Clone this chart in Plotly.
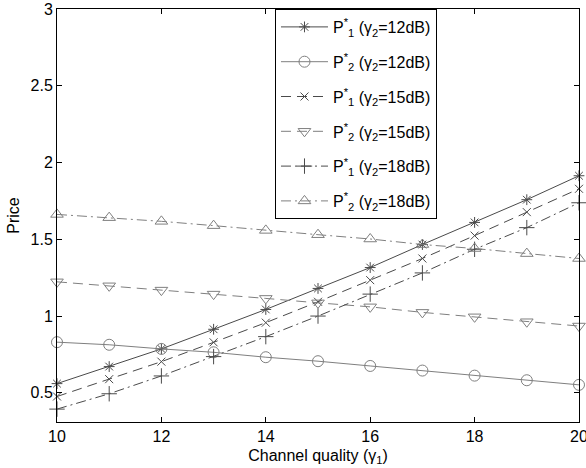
import plotly.graph_objects as go

x = [10, 11, 12, 13, 14, 15, 16, 17, 18, 19, 20]
p1_12 = [0.56, 0.671, 0.786, 0.914, 1.043, 1.18, 1.316, 1.466, 1.61, 1.758, 1.914]
p2_12 = [0.83, 0.813, 0.786, 0.764, 0.732, 0.706, 0.675, 0.645, 0.612, 0.582, 0.552]
p1_15 = [0.476, 0.589, 0.703, 0.829, 0.957, 1.093, 1.234, 1.375, 1.524, 1.677, 1.829]
p2_15 = [1.223, 1.197, 1.169, 1.143, 1.115, 1.086, 1.06, 1.024, 0.995, 0.963, 0.935]
p1_18 = [0.394, 0.494, 0.61, 0.736, 0.866, 1.0, 1.143, 1.281, 1.435, 1.576, 1.738]
p2_18 = [1.662, 1.641, 1.617, 1.589, 1.558, 1.53, 1.502, 1.466, 1.44, 1.407, 1.375]

names = [
    "P<sup>*</sup><sub>1</sub> (γ<sub>2</sub>=12dB)",
    "P<sup>*</sup><sub>2</sub> (γ<sub>2</sub>=12dB)",
    "P<sup>*</sup><sub>1</sub> (γ<sub>2</sub>=15dB)",
    "P<sup>*</sup><sub>2</sub> (γ<sub>2</sub>=15dB)",
    "P<sup>*</sup><sub>1</sub> (γ<sub>2</sub>=18dB)",
    "P<sup>*</sup><sub>2</sub> (γ<sub>2</sub>=18dB)",
]
series = [p1_12, p2_12, p1_15, p2_15, p1_18, p2_18]
dashes = ["solid", "solid", "10px,6px", "10px,6px", "10px,4px,2px,4px", "10px,4px,2px,4px"]
symbols = ["asterisk-open", "circle-open", "x-thin-open", "triangle-down-open",
           "cross-thin-open", "triangle-up-open"]
sizes = [9, 11, 8, 11, 11, 11]
colors = ["#4a4a4a", "#7f7f7f", "#4a4a4a", "#7f7f7f", "#4a4a4a", "#7f7f7f"]

fig = go.Figure()
for i, (n, s, d, sym, sz, c) in enumerate(zip(names, series, dashes, symbols, sizes, colors)):
    fig.add_trace(go.Scatter(
        x=x, y=s, name=n, mode="lines+markers", legendgroup=str(i), cliponaxis=False,
        line=dict(color=c, width=1, dash=d),
        marker=dict(symbol=sym, size=sz, color=c, line=dict(width=1, color=c)),
    ))

axis_common = dict(showline=True, linecolor="black", linewidth=1, mirror="allticks",
                   ticks="inside", ticklen=5, tickcolor="black", showgrid=False,
                   zeroline=False, automargin=False, ticklabeloverflow="allow",
                   tickfont=dict(size=16, color="black"))
fig.update_xaxes(range=[10, 20], tickvals=[10, 12, 14, 16, 18, 20],
                 title=dict(text="Channel quality (γ<sub>1</sub>)", standoff=5,
                            font=dict(size=16, color="black")), **axis_common)
fig.update_yaxes(range=[0.31, 3], tickvals=[0.5, 1, 1.5, 2, 2.5, 3],
                 ticktext=["0.5", "1", "1.5", "2", "2.5", "3"],
                 title=dict(text="Price", standoff=6, font=dict(size=16, color="black")),
                 **axis_common)
fig.update_layout(
    width=586, height=468,
    margin=dict(l=57, r=7, t=9, b=46),
    plot_bgcolor="white", paper_bgcolor="white",
    font=dict(family="Liberation Sans, Arial, sans-serif", size=16, color="black"),
    legend=dict(x=0.4176, y=1, xanchor="left", yanchor="top",
                bgcolor="white", bordercolor="black", borderwidth=1,
                font=dict(size=16), itemwidth=47, tracegroupgap=11),
)
fig.write_html("out.html", config={"displayModeBar": False},
               post_script="document.body.style.margin='0';")
